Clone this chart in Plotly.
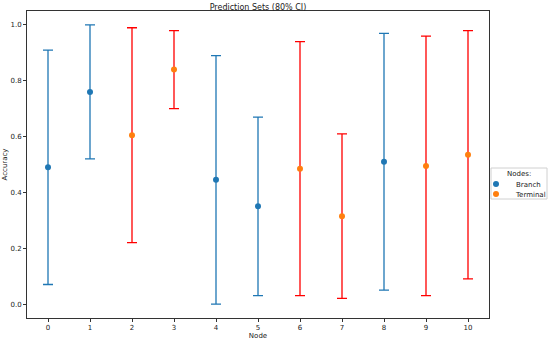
import plotly.graph_objects as go

nodes = [0, 1, 2, 3, 4, 5, 6, 7, 8, 9, 10]
node_type = ["Branch", "Branch", "Terminal", "Terminal", "Branch", "Branch",
             "Terminal", "Terminal", "Branch", "Terminal", "Terminal"]
accuracy = [0.49, 0.76, 0.605, 0.84, 0.445, 0.35, 0.485, 0.315, 0.51, 0.495, 0.535]
ci_low = [0.07, 0.52, 0.22, 0.70, 0.0, 0.03, 0.03, 0.02, 0.05, 0.03, 0.09]
ci_high = [0.91, 1.0, 0.99, 0.98, 0.89, 0.67, 0.94, 0.61, 0.97, 0.96, 0.98]

styles = {
    "Branch": dict(marker="#1f77b4", bar="#1f77b4", legend="legend", ly=184),
    "Terminal": dict(marker="#ff7f0e", bar="#ff0000", legend="legend2", ly=194),
}

W, H = 548, 341

fig = go.Figure()
for kind in ["Branch", "Terminal"]:
    idx = [i for i, t in enumerate(node_type) if t == kind]
    fig.add_trace(go.Scatter(
        x=[nodes[i] for i in idx],
        y=[accuracy[i] for i in idx],
        mode="markers",
        name=kind,
        legend=styles[kind]["legend"],
        marker=dict(color=styles[kind]["marker"], size=6),
        error_y=dict(
            type="data", symmetric=False,
            array=[ci_high[i] - accuracy[i] for i in idx],
            arrayminus=[accuracy[i] - ci_low[i] for i in idx],
            color=styles[kind]["bar"], thickness=1.3, width=5,
        ),
    ))

axis_common = dict(
    showgrid=False, zeroline=False, showline=True, linecolor="#333", linewidth=1,
    mirror=True, ticks="outside", ticklen=3, tickcolor="#333", automargin=False,
    tickfont=dict(size=7, color="#222"),
)

# legend frame + title (legend entries are drawn without border)
fig.add_shape(type="rect", xref="paper", yref="paper",
              x0=(491 - 27) / 462, x1=(547 - 27) / 462,
              y0=(318 - 199) / 307, y1=(318 - 168) / 307,
              line=dict(color="#d0d0d0", width=1), fillcolor="white", layer="below")
fig.add_annotation(text="Nodes:", xref="paper", yref="paper",
                   x=(519 - 27) / 462, y=(318 - 174) / 307, showarrow=False,
                   font=dict(size=7, color="#222"), xanchor="center", yanchor="middle")

legend_common = dict(xref="container", yref="container", x=476 / W,
                     xanchor="left", yanchor="middle",
                     font=dict(size=7, color="#222"), bgcolor="rgba(0,0,0,0)", borderwidth=0,
                     itemwidth=30)

fig.update_layout(
    width=W, height=H,
    margin=dict(l=27, r=59, t=11, b=23, autoexpand=False),
    paper_bgcolor="white", plot_bgcolor="white",
    font=dict(family="DejaVu Sans", color="#222"),
    title=dict(text="Prediction Sets (80% CI)", x=0.5, xref="paper", xanchor="center",
               yref="container", y=1 - 10 / H, yanchor="bottom", font=dict(size=8)),
    xaxis=dict(range=[-0.5, 10.5], tickvals=nodes, title=dict(text="Node", font=dict(size=7), standoff=0),
               **axis_common),
    yaxis=dict(range=[-0.05, 1.05], tickvals=[0, 0.2, 0.4, 0.6, 0.8, 1.0], tickformat=".1f",
               title=dict(text="Accuracy", font=dict(size=7), standoff=2), **axis_common),
    legend=dict(y=1 - styles["Branch"]["ly"] / H, **legend_common),
    legend2=dict(y=1 - styles["Terminal"]["ly"] / H, **legend_common),
    showlegend=True,
)

fig.write_html("out.html", post_script="document.body.style.margin='0';",
               config={"displayModeBar": False})
